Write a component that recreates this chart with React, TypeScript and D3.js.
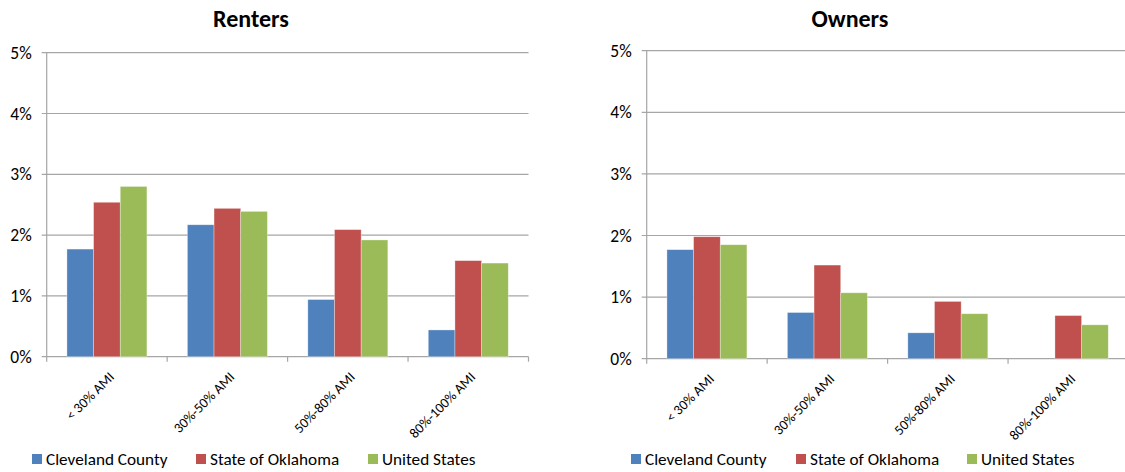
import React from "react";
import * as d3 from "d3";

const categories = ["< 30% AMI", "30%-50% AMI", "50%-80% AMI", "80%-100% AMI"];
const seriesNames = ["Cleveland County", "State of Oklahoma", "United States"];
const seriesColors = ["#4F81BD", "#C0504D", "#9BBB59"];
const yTicks = [0, 1, 2, 3, 4, 5];

const rentersCleveland = [1.77, 2.17, 0.94, 0.44];
const rentersOklahoma = [2.54, 2.44, 2.09, 1.58];
const rentersUS = [2.8, 2.39, 1.92, 1.54];

const ownersCleveland = [1.77, 0.75, 0.42, 0];
const ownersOklahoma = [1.98, 1.52, 0.93, 0.7];
const ownersUS = [1.85, 1.07, 0.73, 0.55];

const FONT = "Carlito, Calibri, 'Liberation Sans', Arial, sans-serif";

type PanelProps = {
  title: string;
  data: number[][];
  left: number;
  right: number;
  top: number;
  bottom: number;
  titleX: number;
  legendXs: number[];
};

function Panel({ title, data, left, right, top, bottom, titleX, legendXs }: PanelProps) {
  const x0 = d3.scaleBand<string>().domain(categories).range([left, right]).paddingInner(0.336).paddingOuter(0.168);
  const x1 = d3.scaleBand<string>().domain(seriesNames).range([0, x0.bandwidth()]);
  const y = d3.scaleLinear().domain([0, 5]).range([bottom, top]);
  const step = x0.step();
  const boundaries = d3.range(categories.length + 1).map((i) => left + i * step);
  const grid = "#A6A6A6";
  return (
    <g>
      <text x={titleX} y={27} textAnchor="middle" fontFamily={FONT} fontWeight="bold" fontSize={24} fill="#000">
        {title}
      </text>
      {yTicks.map((t) => (
        <g key={t}>
          <line x1={left - 5} x2={right} y1={y(t)} y2={y(t)} stroke={grid} strokeWidth={1.2} />
          <text x={left - 15} y={y(t)} dy="0.35em" textAnchor="end" fontFamily={FONT} fontSize={17.5} fill="#000">
            {t}%
          </text>
        </g>
      ))}
      <line x1={left} x2={left} y1={top} y2={bottom} stroke={grid} strokeWidth={1.2} />
      {boundaries.map((bx, i) => (
        <line key={i} x1={bx} x2={bx} y1={bottom} y2={bottom + 5} stroke={grid} strokeWidth={1.2} />
      ))}
      {categories.map((c, ci) => (
        <g key={c}>
          {seriesNames.map((s, si) => {
            const v = data[si][ci];
            if (v <= 0) return null;
            const bx = (x0(c) as number) + (x1(s) as number);
            return (
              <rect
                key={s}
                x={bx}
                y={y(v)}
                width={x1.bandwidth()}
                height={bottom - y(v)}
                fill={seriesColors[si]}
                stroke="rgba(255,255,255,0.45)"
                strokeWidth={0.7}
              />
            );
          })}
        </g>
      ))}
      {categories.map((c) => {
        const cx = (x0(c) as number) + x0.bandwidth() / 2;
        const ty = bottom + 21;
        const tx = cx + 8;
        return (
          <text
            key={c}
            x={tx}
            y={ty}
            transform={`rotate(-45 ${tx} ${ty})`}
            textAnchor="end"
            fontFamily={FONT}
            fontSize={14}
            fill="#000"
          >
            {c}
          </text>
        );
      })}
      {seriesNames.map((s, si) => (
        <g key={s}>
          <rect x={legendXs[si]} y={454} width={10} height={10} fill={seriesColors[si]} />
          <text x={legendXs[si] + 14} y={464.5} fontFamily={FONT} fontSize={17.2} fill="#000">
            {s}
          </text>
        </g>
      ))}
    </g>
  );
}

export default function App() {
  const renters = [rentersCleveland, rentersOklahoma, rentersUS];
  const owners = [ownersCleveland, ownersOklahoma, ownersUS];
  return (
    <svg
      width={1125}
      height={472}
      style={{ position: "absolute", left: 0, top: 0, background: "#fff" }}
    >
      <rect width={1125} height={472} fill="#fff" />
      <Panel
        title="Renters"
        data={renters}
        left={46.7}
        right={528.5}
        top={52.7}
        bottom={356.7}
        titleX={251}
        legendXs={[32, 196, 368]}
      />
      <Panel
        title="Owners"
        data={owners}
        left={646.7}
        right={1128.5}
        top={50.7}
        bottom={358.7}
        titleX={850}
        legendXs={[631, 796, 967]}
      />
    </svg>
  );
}
